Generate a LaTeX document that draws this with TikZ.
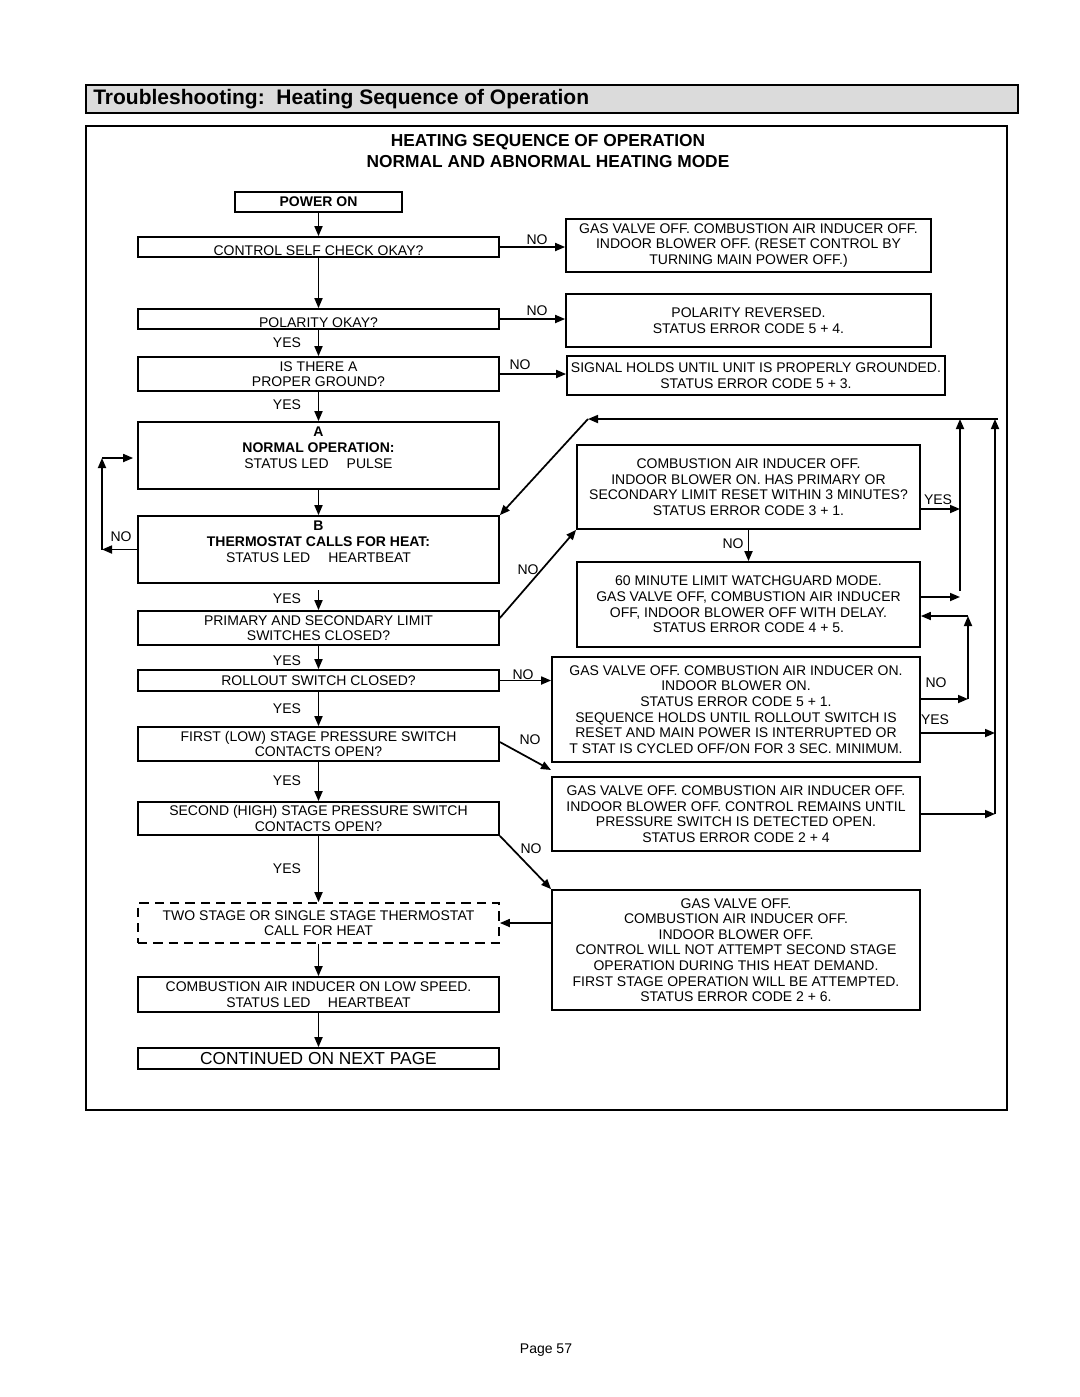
\documentclass[tikz,border=0pt]{standalone}
\usepackage{fontspec}
\setmainfont{Liberation Sans}
\usetikzlibrary{arrows.meta}
\tikzset{
  box/.style={draw,line width=1.3pt,rectangle,inner sep=0pt,align=center,font=\fontsize{10.5}{11.7}\selectfont},
  lbox/.style={box,minimum width=270.75pt},
  dbox/.style={lbox,dash pattern=on 7pt off 4.5pt},
  arr/.style={line width=1.3pt,-{Triangle[length=7.5pt,width=6pt]}},
  ln/.style={line width=1.3pt},
  lbl/.style={font=\fontsize{10.5}{11.7}\selectfont,inner sep=0pt},
  low/.style={text height=12pt,text depth=0pt}}
\begin{document}
\begin{tikzpicture}[x=0.75pt,y=-0.75pt]
\fill[white] (0,0) rectangle (1080,1397);
\useasboundingbox (0,0) rectangle (1080,1397);

% title bar and frame
\node[draw,line width=1.1pt,fill=black!14,minimum width=699pt,minimum height=21pt,inner sep=0pt] (tbar) at (552,99) {};
\node[anchor=west,inner sep=0pt,font=\bfseries\fontsize{15.75}{18}\selectfont] (title) at (93,99) {Troubleshooting:\ \ Heating Sequence of Operation};
\node[draw,line width=2pt,minimum width=690.75pt,minimum height=738pt,inner sep=0pt] (frame) at (546.5,618) {};
\node[inner sep=0pt,font=\bfseries\fontsize{13}{15}\selectfont] (h1) at (548,142) {HEATING SEQUENCE OF OPERATION};
\node[inner sep=0pt,font=\bfseries\fontsize{13}{15}\selectfont] (h2) at (548,162) {NORMAL AND ABNORMAL HEATING MODE};

% left column
\node[box,minimum width=125.25pt,minimum height=15pt] (power) at (318.5,202) {\textbf{POWER ON}};
\node[lbox,low,minimum height=15pt] (control) at (318.5,247) {CONTROL SELF CHECK OKAY?};
\node[lbox,low,minimum height=15pt] (polarity) at (318.5,319) {POLARITY OKAY?};
\node[lbox,minimum height=25.5pt] (ground) at (318.5,374) {IS THERE A\\PROPER GROUND?};
\node[lbox,minimum height=50.25pt] (A) at (318.5,455.5) {\textbf{A}\\\textbf{NORMAL OPERATION:}\\STATUS LED\hspace{13.5pt}PULSE\\\mbox{}};
\node[lbox,minimum height=50.25pt] (B) at (318.5,549.5) {\textbf{B}\\\textbf{THERMOSTAT CALLS FOR HEAT:}\\STATUS LED\hspace{13.5pt}HEARTBEAT\\\mbox{}};
\node[lbox,minimum height=25.5pt] (limit) at (318.5,628) {PRIMARY AND SECONDARY LIMIT\\SWITCHES CLOSED?};
\node[lbox,minimum height=15.75pt] (rollout) at (318.5,680.5) {ROLLOUT SWITCH CLOSED?};
\node[lbox,minimum height=25.5pt] (first) at (318.5,744) {FIRST (LOW) STAGE PRESSURE SWITCH\\CONTACTS OPEN?};
\node[lbox,minimum height=24.75pt] (second) at (318.5,818.5) {SECOND (HIGH) STAGE PRESSURE SWITCH\\CONTACTS OPEN?};
\node[dbox,minimum height=30pt] (dashed) at (318.5,923) {TWO STAGE OR SINGLE STAGE THERMOSTAT\\CALL FOR HEAT};
\node[lbox,minimum height=26.25pt] (lowspd) at (318.5,994.5) {COMBUSTION AIR INDUCER ON LOW SPEED.\\STATUS LED\hspace{13pt}HEARTBEAT};
\node[lbox,minimum height=15.75pt,font=\fontsize{13}{15}\selectfont] (cont) at (318.5,1058.5) {CONTINUED ON NEXT PAGE};

% right column
\node[box,minimum width=273.75pt,minimum height=39.75pt] (r1) at (748.5,245.5) {GAS VALVE OFF. COMBUSTION AIR INDUCER OFF.\\INDOOR BLOWER OFF. (RESET CONTROL BY\\TURNING MAIN POWER OFF.)};
\node[box,minimum width=273.75pt,minimum height=39.75pt] (r2) at (748.5,320.5) {POLARITY REVERSED.\\STATUS ERROR CODE 5 + 4.};
\node[box,minimum width=283.5pt,minimum height=29.25pt] (r3) at (756,375.5) {SIGNAL HOLDS UNTIL UNIT IS PROPERLY GROUNDED.\\STATUS ERROR CODE 5 + 3.};
\node[box,minimum width=257.25pt,minimum height=63pt] (lr) at (748.5,487) {COMBUSTION AIR INDUCER OFF.\\INDOOR BLOWER ON. HAS PRIMARY OR\\SECONDARY LIMIT RESET WITHIN 3 MINUTES?\\STATUS ERROR CODE 3 + 1.};
\node[box,minimum width=257.25pt,minimum height=63.75pt] (wg) at (748.5,604.5) {60 MINUTE LIMIT WATCHGUARD MODE.\\GAS VALVE OFF, COMBUSTION AIR INDUCER\\OFF, INDOOR BLOWER OFF WITH DELAY.\\STATUS ERROR CODE 4 + 5.};
\node[box,minimum width=276pt,minimum height=78.75pt] (ro) at (736,709.5) {GAS VALVE OFF. COMBUSTION AIR INDUCER ON.\\INDOOR BLOWER ON.\\STATUS ERROR CODE 5 + 1.\\SEQUENCE HOLDS UNTIL ROLLOUT SWITCH IS\\RESET AND MAIN POWER IS INTERRUPTED OR\\T STAT IS CYCLED OFF/ON FOR 3 SEC. MINIMUM.};
\node[box,minimum width=276pt,minimum height=55.5pt] (ps) at (736,814) {GAS VALVE OFF. COMBUSTION AIR INDUCER OFF.\\INDOOR BLOWER OFF. CONTROL REMAINS UNTIL\\PRESSURE SWITCH IS DETECTED OPEN.\\STATUS ERROR CODE 2 + 4};
\node[box,minimum width=276pt,minimum height=90pt] (ss) at (736,950) {GAS VALVE OFF.\\COMBUSTION AIR INDUCER OFF.\\INDOOR BLOWER OFF.\\CONTROL WILL NOT ATTEMPT SECOND STAGE\\OPERATION DURING THIS HEAT DEMAND.\\FIRST STAGE OPERATION WILL BE ATTEMPTED.\\STATUS ERROR CODE 2 + 6.};

% helper coordinates
\coordinate (lp) at (102,458);
\coordinate (lq) at (102,549.5);
\coordinate (va) at (960,419);
\coordinate (vb) at (995,419);
\coordinate (tl) at (588,419);
\coordinate (vi) at (968,616);
\coordinate (bs) at (318.5,590);
\coordinate (fn) at (551,770);

% main vertical flow
\draw[arr] (power) -- (control);
\draw[arr] (control) -- (polarity);
\draw[arr] (polarity) -- (ground);
\draw[arr] (ground) -- (A);
\draw[arr] (A) -- (B);
\draw[arr] (bs) -- (limit.north);
\draw[arr] (limit) -- (rollout);
\draw[arr] (rollout) -- (first);
\draw[arr] (first) -- (second);
\draw[arr] (second) -- (dashed);
\draw[arr] (dashed) -- (lowspd);
\draw[arr] (lowspd) -- (cont);

% NO branches top
\draw[arr] (control.east) -- (control.east -| r1.west);
\draw[arr] (polarity.east) -- (polarity.east -| r2.west);
\draw[arr] (ground.east) -- (ground.east -| r3.west);

% loop B -> A
\draw[arr] (B.west) -- (lq);
\draw[arr] (lq) -- (lp);
\draw[arr,shorten >=3pt] (lp) -- (lp -| A.west);

% right-hand network
\draw[arr] (limit.east |- 0,618) -- (lr.south west);
\draw[arr] (lr) -- (wg);
\draw[arr] (lr.east |- 0,509) -- (va |- 0,509);
\draw[arr] (wg.east |- 0,597) -- (va |- 0,597);
\draw[arr] (va |- 0,591) -- (va);
\draw[arr] (rollout.east) -- (rollout.east -| ro.west);
\draw[arr] (ro.east |- 0,699) -- (vi |- 0,699);
\draw[arr] (vi |- 0,699) -- (vi);
\draw[arr] (vi) -- (vi -| wg.east);
\draw[arr] (ro.east |- 0,733) -- (vb |- 0,733);
\draw[arr] (ps.east |- 0,814) -- (vb |- 0,814);
\draw[arr] (vb |- 0,814) -- (vb);
\draw[ln] (vb) -- ++(3,0);
\draw[arr] (vb) -- (tl);
\draw[arr] (tl) -- (B.north east);
\draw[arr] (first.east |- 0,742) -- (fn);
\draw[arr] (second.south east) -- (ss.north west);
\draw[arr] (dashed.east -| ss.west) -- (dashed.east);

% labels
\node[lbl] (n1) at (537,240) {NO};
\node[lbl] (n2) at (537,311) {NO};
\node[lbl] (n3) at (520,365) {NO};
\node[lbl] (n4) at (121,537) {NO};
\node[lbl] (n5) at (528,570) {NO};
\node[lbl] (n6) at (733,544) {NO};
\node[lbl] (n7) at (523,675) {NO};
\node[lbl] (n8) at (530,740) {NO};
\node[lbl] (n9) at (531,849) {NO};
\node[lbl] (n10) at (936,683) {NO};
\node[lbl] (y1) at (287,343) {YES};
\node[lbl] (y2) at (287,405) {YES};
\node[lbl] (y3) at (287,599) {YES};
\node[lbl] (y4) at (287,661) {YES};
\node[lbl] (y5) at (287,709) {YES};
\node[lbl] (y6) at (287,781) {YES};
\node[lbl] (y7) at (287,869) {YES};
\node[lbl] (y8) at (938,500) {YES};
\node[lbl] (y9) at (935,720) {YES};

\node[inner sep=0pt,font=\fontsize{10.5}{12}\selectfont] (page) at (546,1350) {Page 57};
\end{tikzpicture}
\end{document}
